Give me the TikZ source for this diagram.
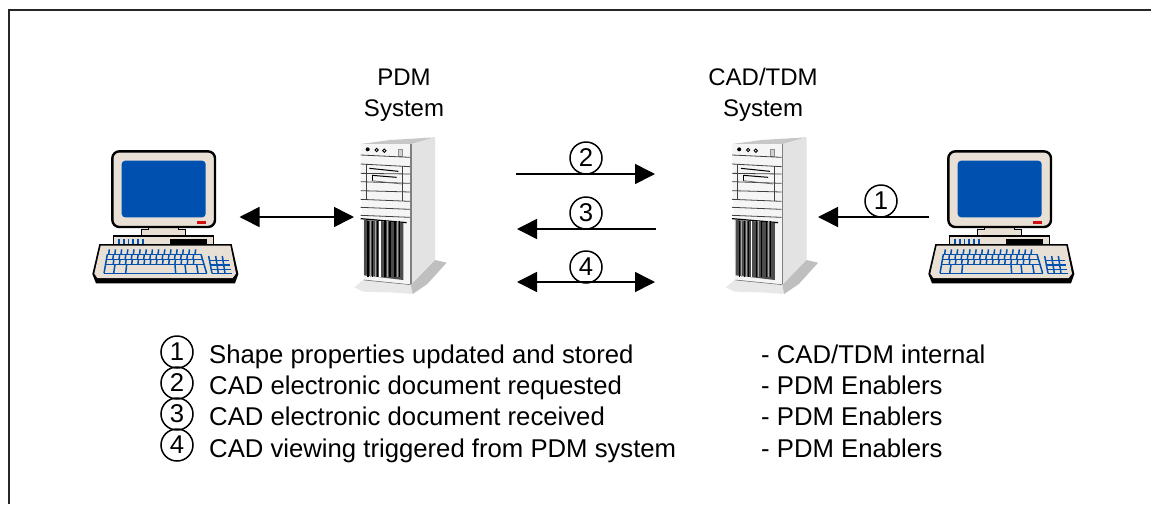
\documentclass[tikz,border=0pt]{standalone}
\usepackage{fontspec}
\setmainfont{Liberation Sans}
\usetikzlibrary{arrows.meta}
\definecolor{beige}{HTML}{E8E0D5}
\definecolor{scr}{HTML}{0050B0}
\definecolor{redled}{HTML}{D01010}
\newcommand{\cnum}[1]{\raisebox{-3pt}{#1}}
\tikzset{
  zoomunits/.style={x=0.33333pt,y=-0.33333pt},
  labeltext/.style={inner sep=0pt,font=\fontsize{24}{28}\selectfont,anchor=base},
  legendtext/.style={inner sep=0pt,font=\fontsize{25.7}{30}\selectfont,anchor=base west},
  numcircle/.style={circle,draw=black,line width=1.5pt,minimum size=32pt,inner sep=0pt,font=\fontsize{25.7}{30}\selectfont},
  flow/.style={line width=1.6pt,-{Triangle[length=20pt,width=20pt]}},
  flowboth/.style={line width=1.6pt,{Triangle[length=20pt,width=20pt]}-{Triangle[length=20pt,width=20pt]}},
  ghost/.style={inner sep=0pt,outer sep=0pt,draw=none},
  computerpic/.pic={
    \begin{scope}[zoomunits]
      % keyboard
      \fill[black] (88,342)--(485,342)--(505,432)--(495,460)--(78,460)--(67,432)--cycle;
      \fill[beige] (92,347)--(481,347)--(498,431)--(488,444)--(82,444)--(73,431)--cycle;
      % base unit
      \draw[fill=beige,line width=1.6pt] (131,342)--(131,318)--(431,318)--(431,342);
      \fill[black] (300,326) rectangle (412,344);
      \foreach \x in {146,161,175,189,204,218}
        \fill[scr] (\x-2.5,327) rectangle (\x+2.5,341);
      % neck
      \draw[fill=beige,line width=1.6pt] (235,288)--(235,298)--(214,298)--(214,318)--(347,318)--(347,298)--(325,298)--(325,288);
      % monitor
      \draw[fill=beige,line width=2.4pt,rounded corners=7pt] (127,64) rectangle (435,291);
      \fill[scr,rounded corners=3.5pt] (155,92) rectangle (407,262);
      \fill[redled] (381,272) rectangle (408,282);
      % main key grid
      \begin{scope}[scr,line width=1.5pt]
        \foreach \i in {0,...,14}
          \draw (118+\i*18.5,358)--(116+\i*18.5,373);
        \draw (112,373)--(393,373);
        \draw (109,388)--(398,388);
        \draw (106,404)--(402,404);
        \draw (102,430)--(410,430);
        \draw (112,373)--(102,430);
        \draw (393,373)--(410,430);
        \foreach \i in {1,...,14}
          \draw (112+\i*18.5,373)--(110+\i*18.5,388);
        \foreach \i in {1,...,14}
          \draw (113+\i*18.5,388)--(111+\i*18.5,404);
        \draw (135,404)--(131,430);
        \draw (170,404)--(167,430);
        \draw (315,404)--(317,430);
        \draw (345,404)--(348,430);
        \draw (380,404)--(384,430);
        % numeric pad
        \draw (420,392)--(478,392);
        \draw (420,405)--(481,405);
        \draw (422,418)--(484,418);
        \draw (425,430)--(485,430);
        \draw (416,378)--(426,430);
        \draw (437,378)--(445,430);
        \draw (457,378)--(465,430);
      \end{scope}
    \end{scope}
  },
  serverpic/.pic={
    \begin{scope}[zoomunits]
      % base
      \fill[black!9] (43,472)--(72,448)--(212,462)--(218,492)--(150,487)--(70,485)--cycle;
      \fill[black!25] (212,462)--(285,390)--(320,398)--(262,462)--(218,492)--cycle;
      \draw[black!55,line width=0.6pt] (72,450)--(212,464);
      % body
      \fill[black!22] (62,42)--(150,30)--(285,22)--(215,42)--cycle;
      \fill[black!11] (215,42)--(285,22)--(285,390)--(215,462)--cycle;
      \fill[black!4] (62,42)--(212,42)--(212,462)--(70,446)--cycle;
      \draw[black!50,line width=1.5pt] (213,42)--(213,462);
      % buttons
      \fill[black] (83,58) circle (6);
      \draw[black,line width=0.9pt] (110,60) circle (5);
      \draw[black,line width=0.9pt] (133,62) circle (5);
      \draw[black!45,fill=black!18] (175,58) rectangle (188,78);
      % front lines
      \begin{scope}[black!75,line width=0.8pt]
        \draw (62,75)--(210,82);
        \draw (62,102)--(210,110);
        \draw (62,130)--(210,132);
        \draw (62,155)--(210,160);
        \draw (62,182)--(210,186);
        \draw (62,208)--(210,214);
        \draw (62,232)--(210,238);
        \draw (62,256)--(210,262);
        \draw (78,102)--(78,208);
        \draw (188,108)--(188,214);
      \end{scope}
      \draw[black,line width=1pt] (88,115)--(175,124);
      \draw[black,line width=1pt] (96,136)--(170,142);
      \draw[black,line width=1pt] (96,136)--(96,152);
      \draw[black!60,line width=0.7pt] (96,152)--(185,162);
      % vents
      \draw[black,line width=1.2pt] (62,266)--(200,278);
      \fill[black!70] (72,270)--(190,278)--(190,450)--(72,436)--cycle;
      \foreach \x in {84,98,112,120,135,150,165,178}
        \draw[black,line width=1.3pt] (\x,272)--(\x,442);
      \foreach \x in {90,105,142,172}
        \draw[black!35,line width=0.8pt] (\x,272)--(\x,442);
      \draw[white,line width=1.5pt] (120,272)--(120,440);
    \end{scope}
  }
}
\begin{document}
\begin{tikzpicture}[x=1pt,y=-1pt]
  \useasboundingbox (0,0) rectangle (1151,504);
  \fill[white] (0,0) rectangle (1151,504);
  \draw[line width=2pt,black!85] (1151,10)--(8.5,10)--(8.5,504);

  % equipment
  \pic at (70,130) {computerpic};
  \pic at (906,130) {computerpic};
  \pic at (340,130) {serverpic};
  \pic at (711.5,130) {serverpic};

  % connection boxes round the drawings
  \node[ghost,minimum width=147pt,minimum height=132pt] (pc1) at (166,217) {};
  \node[ghost,minimum width=147pt,minimum height=132pt] (pc2) at (1002,217) {};
  \node[ghost,minimum width=92pt,minimum height=156pt] (pdm) at (400,217) {};
  \node[ghost,minimum width=92pt,minimum height=156pt] (cad) at (772,217) {};

  % titles
  \node[labeltext] (t1) at (404,85) {PDM};
  \node[labeltext] (t2) at (404,116) {System};
  \node[labeltext] (t3) at (763,85) {CAD/TDM};
  \node[labeltext] (t4) at (763,116) {System};

  % free ends
  \coordinate (a2s) at (516,174);
  \coordinate (a2e) at (655,174);
  \coordinate (a3s) at (656,229);
  \coordinate (a3e) at (517,229);
  \coordinate (a4s) at (517,282);
  \coordinate (a4e) at (655,282);

  % connectors
  \draw[flowboth] (pc1.east) -- (pdm.west);
  \draw[flow] (pc2.west) -- (cad.east);
  \draw[flow] (a2s) -- (a2e);
  \draw[flow] (a3s) -- (a3e);
  \draw[flowboth] (a4s) -- (a4e);

  % numbers on the connectors
  \node[numcircle] (n2) at (586,158) {\cnum{2}};
  \node[numcircle] (n3) at (586,213) {\cnum{3}};
  \node[numcircle] (n4) at (586,267) {\cnum{4}};
  \node[numcircle] (n1) at (881,201) {\cnum{1}};

  % legend
  \node[numcircle] (l1) at (177,352) {\cnum{1}};
  \node[numcircle] (l2) at (177,383) {\cnum{2}};
  \node[numcircle] (l3) at (177,414) {\cnum{3}};
  \node[numcircle] (l4) at (177,445) {\cnum{4}};
  \node[legendtext] (s1) at (209,363) {Shape properties updated and stored};
  \node[legendtext] (s2) at (209,394) {CAD electronic document requested};
  \node[legendtext] (s3) at (209,425) {CAD electronic document received};
  \node[legendtext] (s4) at (209,457) {CAD viewing triggered from PDM system};
  \node[legendtext] (r1) at (761,363) {- CAD/TDM internal};
  \node[legendtext] (r2) at (761,394) {- PDM Enablers};
  \node[legendtext] (r3) at (761,425) {- PDM Enablers};
  \node[legendtext] (r4) at (761,457) {- PDM Enablers};
\end{tikzpicture}
\end{document}
